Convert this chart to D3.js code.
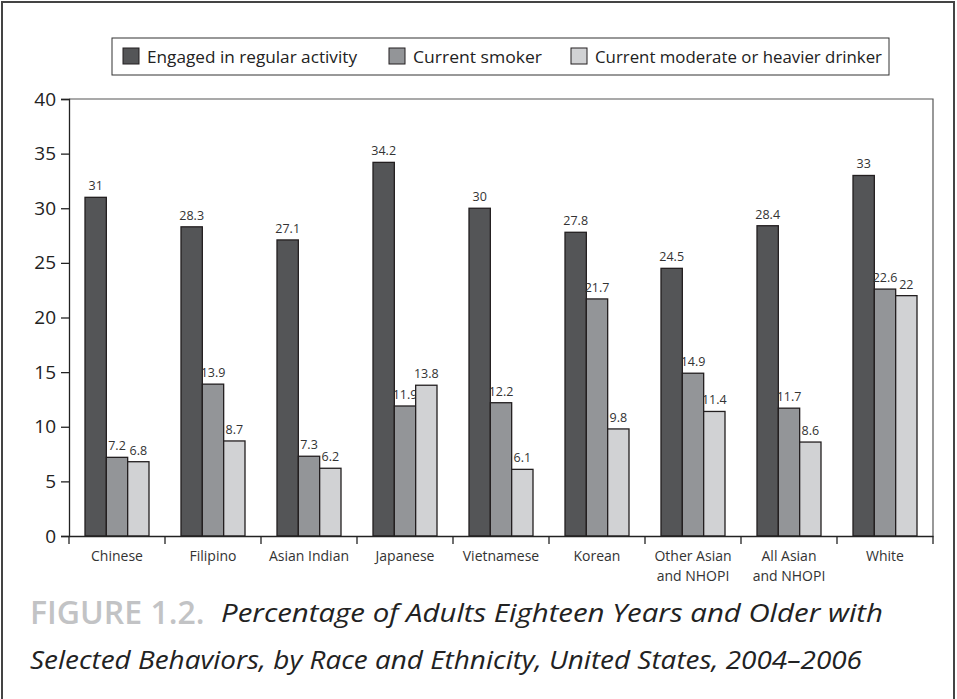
<!DOCTYPE html>
<html>
<head>
<meta charset="utf-8">
<script src="https://cdn.jsdelivr.net/npm/d3@7"></script>
<style>
  body { margin: 0; background: #fff; }
  svg { display: block; font-family: "Open Sans", "Noto Sans", sans-serif; }
</style>
</head>
<body>
<svg width="957" height="699"></svg>
<script>
var categories = ['Chinese', 'Filipino', 'Asian Indian', 'Japanese', 'Vietnamese', 'Korean',
  'Other Asian\nand NHOPI', 'All Asian\nand NHOPI', 'White'];
var seriesNames = ['Engaged in regular activity', 'Current smoker', 'Current moderate or heavier drinker'];
var activity = [31, 28.3, 27.1, 34.2, 30, 27.8, 24.5, 28.4, 33];
var smoker = [7.2, 13.9, 7.3, 11.9, 12.2, 21.7, 14.9, 11.7, 22.6];
var drinker = [6.8, 8.7, 6.2, 13.8, 6.1, 9.8, 11.4, 8.6, 22];
var yTicks = [0, 5, 10, 15, 20, 25, 30, 35, 40];
var colors = ['#545557', '#939598', '#d1d2d4'];

var series = [activity, smoker, drinker];

var svg = d3.select('svg');
var plotLeft = 69, plotRight = 933, plotTop = 99, plotBottom = 536;

// outer frame
svg.append('rect')
  .attr('x', 2).attr('y', 2).attr('width', 952).attr('height', 720)
  .attr('fill', 'none').attr('stroke', '#444').attr('stroke-width', 2);

var x = d3.scaleBand().domain(categories).range([plotLeft, plotRight]);
var xs = d3.scaleBand().domain([0, 1, 2]).range([0, 64]);
var y = d3.scaleLinear().domain([0, 40]).range([plotBottom, plotTop]);

// plot frame (top and right)
svg.append('path')
  .attr('d', 'M' + plotLeft + ',' + plotTop + 'H' + plotRight + 'V' + plotBottom)
  .attr('fill', 'none').attr('stroke', '#555').attr('stroke-width', 1.2);

var groups = svg.append('g').selectAll('g')
  .data(categories)
  .join('g')
  .attr('transform', function(d) { return 'translate(' + (x(d) + (x.bandwidth() - 64) / 2) + ',0)'; });

groups.each(function(cat, i) {
  var g = d3.select(this);
  series.forEach(function(vals, s) {
    var v = vals[i];
    g.append('rect')
      .attr('x', xs(s))
      .attr('y', y(v))
      .attr('width', xs.bandwidth())
      .attr('height', y(0) - y(v))
      .attr('fill', colors[s])
      .attr('stroke', '#231f20')
      .attr('stroke-width', 1.3);
    g.append('text')
      .attr('x', xs(s) + xs.bandwidth() / 2)
      .attr('y', y(v) - 7)
      .attr('text-anchor', 'middle')
      .attr('font-size', 12.5)
      .attr('fill', '#333')
      .text(v);
  });
});

// y axis
var yAxis = svg.append('g')
  .attr('transform', 'translate(' + plotLeft + ',0)')
  .call(d3.axisLeft(y).tickValues(yTicks).tickSize(8).tickPadding(5));
yAxis.selectAll('text').attr('font-size', 19).attr('fill', '#222').attr('font-family', '"Open Sans", sans-serif');
yAxis.selectAll('line, path').attr('stroke', '#222').attr('stroke-width', 1.3);

// x axis
var xAxis = svg.append('g')
  .attr('transform', 'translate(0,' + plotBottom + ')')
  .call(d3.axisBottom(x).tickSize(0).tickFormat(''));
xAxis.selectAll('path').attr('stroke', '#222').attr('stroke-width', 1.3);

xAxis.selectAll('.sep')
  .data(d3.range(categories.length + 1))
  .join('line')
  .attr('x1', function(d) { return plotLeft + d * x.step(); })
  .attr('x2', function(d) { return plotLeft + d * x.step(); })
  .attr('y1', 0).attr('y2', 8)
  .attr('stroke', '#222').attr('stroke-width', 1.3);

var xl = svg.append('g').selectAll('text')
  .data(categories)
  .join('text')
  .attr('x', function(d) { return x(d) + x.bandwidth() / 2; })
  .attr('y', plotBottom + 25)
  .attr('text-anchor', 'middle')
  .attr('font-size', 14)
  .attr('fill', '#333');
xl.each(function(d) {
  var t = d3.select(this);
  d.split('\n').forEach(function(line, k) {
    t.append('tspan')
      .attr('x', t.attr('x'))
      .attr('dy', k === 0 ? 0 : 20)
      .text(line);
  });
});

// legend
var legend = svg.append('g');
legend.append('rect')
  .attr('x', 112).attr('y', 38).attr('width', 777).attr('height', 37)
  .attr('fill', '#fff').attr('stroke', '#333').attr('stroke-width', 1);
var legendX = [123, 389, 571];
var legendW = [210, 129, 287];
seriesNames.forEach(function(name, s) {
  legend.append('rect')
    .attr('x', legendX[s]).attr('y', 48).attr('width', 16).attr('height', 16)
    .attr('fill', colors[s]).attr('stroke', '#231f20').attr('stroke-width', 1);
  legend.append('text')
    .attr('x', legendX[s] + 24).attr('y', 63)
    .attr('font-size', 17).attr('fill', '#222')
    .attr('textLength', legendW[s]).attr('lengthAdjust', 'spacingAndGlyphs')
    .text(name);
});

// caption
svg.append('text')
  .attr('x', 30).attr('y', 624)
  .attr('font-size', 32).attr('font-weight', 600)
  .attr('fill', '#c2c3c5')
  .text('FIGURE 1.2.');
svg.append('text')
  .attr('x', 221).attr('y', 622)
  .attr('font-size', 25).attr('font-style', 'italic')
  .attr('fill', '#222')
  .attr('textLength', 662).attr('lengthAdjust', 'spacingAndGlyphs')
  .text('Percentage of Adults Eighteen Years and Older with');
svg.append('text')
  .attr('x', 30).attr('y', 669)
  .attr('font-size', 25).attr('font-style', 'italic')
  .attr('fill', '#222')
  .attr('textLength', 832).attr('lengthAdjust', 'spacingAndGlyphs')
  .text('Selected Behaviors, by Race and Ethnicity, United States, 2004–2006');
</script>
</body>
</html>
